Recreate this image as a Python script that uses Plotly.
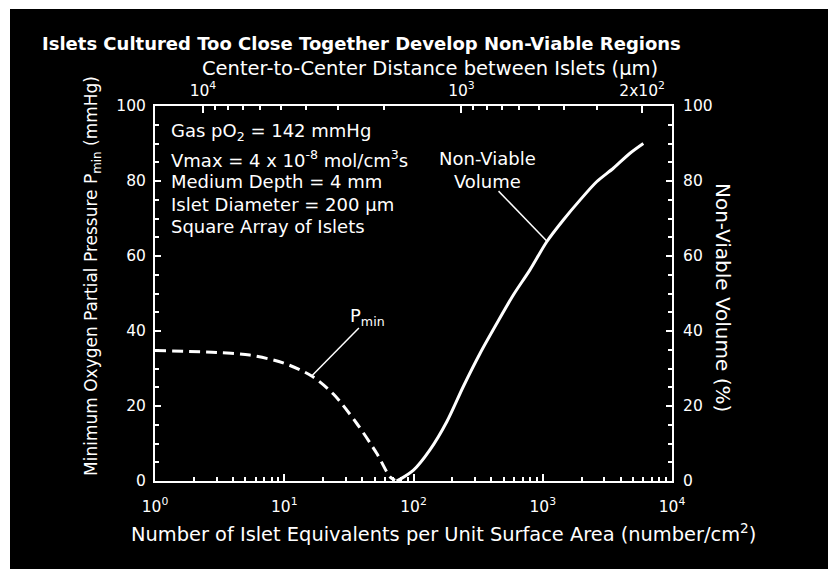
import math
import plotly.graph_objects as go

# ---------------- data ----------------
pmin_n = [1, 3, 5.4, 9.8, 16.3, 24, 36.3, 51.9, 65.8, 72]
pmin_val = [34.8, 34.3, 33.6, 31.5, 28.0, 23.2, 15.4, 7.4, 1.1, 0.2]

nv_n = [74, 79, 100, 134, 181, 243, 327, 441, 592, 796, 1074, 1442, 1941, 2612, 3516, 4732, 6000]
nv_val = [0.0, 0.5, 2.9, 8.3, 15.8, 25.2, 34.0, 42.0, 49.6, 56.3, 63.8, 69.6, 74.9, 79.8, 83.4, 87.4, 90.0]

x_tickvals = [1, 10, 100, 1000, 10000]
x_ticktext = ["10<sup>0</sup>", "10<sup>1</sup>", "10<sup>2</sup>", "10<sup>3</sup>", "10<sup>4</sup>"]

# top axis: centre-to-centre distance (um) d = DIST_SCALE / sqrt(N)
DIST_SCALE = 15330.0
top_major_d = [10000, 1000, 200]
top_major_text = ["10<sup>4</sup>", "10<sup>3</sup>", "2x10<sup>2</sup>"]
top_minor_d = [9000, 8000, 7000, 6000, 5000, 4000, 3000, 2000,
               900, 800, 700, 600, 500, 400, 300]

info_lines = [
    "Gas pO<sub>2</sub> = 142 mmHg",
    "Vmax = 4 x 10<sup>-8</sup> mol/cm<sup>3</sup>s",
    "Medium Depth = 4 mm",
    "Islet Diameter = 200 μm",
    "Square Array of Islets",
]

def d_to_n(d):
    return (DIST_SCALE / d) ** 2

# ---------------- layout geometry (screen pixels; page body margin = 8) ----------------
W, H = 836, 569
OFF = 8
L, R, T, B = 155, 672, 106, 481
PW, PH = R - L, B - T

def px(xs):
    return (xs - L) / PW

def py(ys):
    return (B - ys) / PH

def dx(n):  # data -> paper
    return math.log10(n) / 4.0

def dy(v):
    return v / 100.0

FONT = "DejaVu Sans"
WHITE = "white"

fig = go.Figure()
fig.add_trace(go.Scatter(x=pmin_n, y=pmin_val, mode="lines",
                         line=dict(color=WHITE, width=3, dash="11px,6px", shape="spline", smoothing=0.8),
                         hoverinfo="skip", showlegend=False))
fig.add_trace(go.Scatter(x=nv_n, y=nv_val, mode="lines", xaxis="x", yaxis="y2",
                         line=dict(color=WHITE, width=3, shape="spline", smoothing=0.8),
                         hoverinfo="skip", showlegend=False))
# invisible trace to activate the top axis
fig.add_trace(go.Scatter(x=[1, 10000], y=[0, 0], mode="lines", xaxis="x2", yaxis="y",
                         line=dict(color="rgba(0,0,0,0)", width=0),
                         hoverinfo="skip", showlegend=False))

tickfont = dict(family=FONT, size=15.5, color=WHITE)

fig.update_layout(
    width=W, height=H,
    margin=dict(l=L - OFF, r=W - (R - OFF), t=T - OFF, b=H - (B - OFF)),
    paper_bgcolor="black", plot_bgcolor="black",
    font=dict(family=FONT, color=WHITE, size=15),
    xaxis=dict(type="log", range=[0, 4], showgrid=False, zeroline=False,
               showline=True, linecolor=WHITE, linewidth=2,
               ticks="inside", ticklen=7, tickwidth=1.5, tickcolor=WHITE,
               tickmode="array", tickvals=x_tickvals, ticktext=x_ticktext,
               minor=dict(ticks="inside", ticklen=4, tickwidth=1.5, tickcolor=WHITE,
                          tickmode="array",
                          tickvals=[m * 10 ** k for k in range(4) for m in range(2, 10)]),
               tickfont=tickfont, ticklabelstandoff=10),
    xaxis2=dict(type="log", range=[0, 4], overlaying="x", side="top", showgrid=False,
                zeroline=False, showline=True, linecolor=WHITE, linewidth=2,
                ticks="inside", ticklen=7, tickwidth=1.5, tickcolor=WHITE,
                tickmode="array", tickvals=[d_to_n(d) for d in top_major_d], ticktext=top_major_text,
                minor=dict(ticks="inside", ticklen=4, tickwidth=1.5, tickcolor=WHITE,
                           tickmode="array", tickvals=[d_to_n(d) for d in top_minor_d]),
                tickfont=tickfont, ticklabelstandoff=2),
    yaxis=dict(range=[0, 100], showgrid=False, zeroline=False,
               showline=True, linecolor=WHITE, linewidth=2,
               ticks="inside", ticklen=6, tickwidth=1.5, tickcolor=WHITE,
               tickmode="linear", tick0=0, dtick=20,
               minor=dict(ticks="inside", ticklen=4, tickwidth=1.5, tickcolor=WHITE, dtick=5),
               tickfont=tickfont, ticklabelstandoff=4),
    yaxis2=dict(range=[0, 100], overlaying="y", side="right", showgrid=False, zeroline=False,
                showline=True, linecolor=WHITE, linewidth=2,
                ticks="inside", ticklen=6, tickwidth=1.5, tickcolor=WHITE,
                tickmode="linear", tick0=0, dtick=20,
                minor=dict(ticks="inside", ticklen=4, tickwidth=1.5, tickcolor=WHITE, dtick=5),
                tickfont=tickfont, ticklabelstandoff=6),
)

shapes = [
    # thin white border strips (top and left) of the page
    dict(type="rect", xref="paper", yref="paper", x0=px(0), x1=px(W + 20), y0=py(9), y1=py(0),
         fillcolor="white", line=dict(width=0), layer="above"),
    dict(type="rect", xref="paper", yref="paper", x0=px(0), x1=px(10), y0=py(H + 20), y1=py(0),
         fillcolor="white", line=dict(width=0), layer="above"),
    # leader lines
    dict(type="line", xref="paper", yref="paper", x0=dx(16.3), y0=dy(28.0), x1=dx(37.8), y1=dy(40.8),
         line=dict(color=WHITE, width=1.5)),
    dict(type="line", xref="paper", yref="paper", x0=dx(1074), y0=dy(64.0), x1=dx(455), y1=dy(77.3),
         line=dict(color=WHITE, width=1.5)),
]
fig.update_layout(shapes=shapes)

ann = []
ann.append(dict(text="<b>Islets Cultured Too Close Together Develop Non-Viable Regions</b>",
                x=px(40), y=py(43), xanchor="left", yanchor="middle",
                font=dict(family=FONT, size=18, color=WHITE)))
ann.append(dict(text="Center-to-Center Distance between Islets (μm)",
                x=px(430), y=py(68), xanchor="center", yanchor="middle",
                font=dict(family=FONT, size=19.5, color=WHITE)))
ann.append(dict(text="Number of Islet Equivalents per Unit Surface Area (number/cm<sup>2</sup>)",
                x=px(443), y=py(533), xanchor="center", yanchor="middle",
                font=dict(family=FONT, size=19.4, color=WHITE)))
ann.append(dict(text="Minimum Oxygen Partial Pressure P<sub>min</sub> (mmHg)", textangle=-90,
                x=px(92), y=py(276), xanchor="center", yanchor="middle",
                font=dict(family=FONT, size=17, color=WHITE)))
ann.append(dict(text="Non-Viable Volume (%)", textangle=90,
                x=px(723), y=py(297), xanchor="center", yanchor="middle",
                font=dict(family=FONT, size=20, color=WHITE)))
info_y = [131.7, 159, 181, 204.7, 226.3]
for t, yy in zip(info_lines, info_y):
    ann.append(dict(text=t, x=px(169), y=py(yy), xanchor="left", yanchor="middle",
                    font=dict(family=FONT, size=18, color=WHITE)))
ann.append(dict(text="P<sub>min</sub>", x=px(348), y=py(317), xanchor="left", yanchor="middle",
                font=dict(family=FONT, size=18, color=WHITE)))
ann.append(dict(text="Non-Viable<br>Volume", x=px(487), y=py(170), xanchor="center", yanchor="middle",
                font=dict(family=FONT, size=18, color=WHITE)))
for a in ann:
    a.update(xref="paper", yref="paper", showarrow=False)
fig.update_layout(annotations=ann)

fig.write_html("out.html")
